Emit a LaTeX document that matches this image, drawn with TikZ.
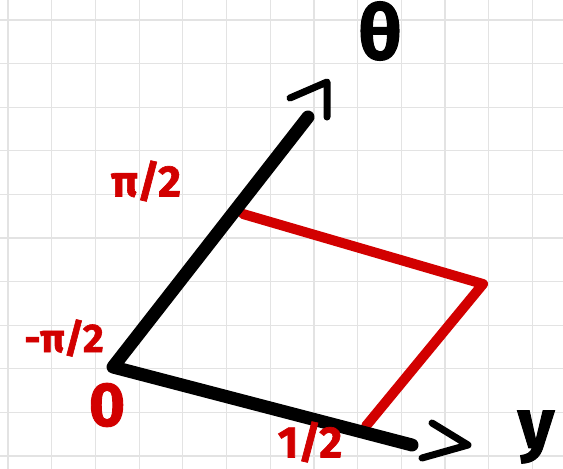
\documentclass[tikz,border=0pt]{standalone}
\usepackage{fontspec}
\setmainfont{Fira Sans}
\newfontfamily\handfont[UprightFeatures={FakeBold=1.5}]{Fira Sans Bold}
\begin{document}
\begin{tikzpicture}[x=1pt,y=-1pt,
  gridline/.style={draw=gray!22,line width=1.2pt},
  axisline/.style={draw=black,line width=13pt,line cap=round,line join=round},
  tipline/.style={draw=black,line width=7pt,line cap=round,line join=round},
  redline/.style={draw=redink,line width=10pt,line cap=round,line join=round},
  redlabel/.style={text=redink,inner sep=0pt},
  blacklabel/.style={text=black,inner sep=0pt}]
\definecolor{redink}{HTML}{D20000}
\useasboundingbox[fill=white] (0,0) rectangle (563,469);
% grid
\foreach \i in {0,...,12} \draw[gridline] ({8+43.7*\i},0) -- ({8+43.7*\i},469);
\foreach \j in {0,...,10} \draw[gridline] (0,{20+43.6*\j}) -- (563,{20+43.6*\j});
% points
\coordinate (O) at (113,367);
\coordinate (T) at (308,117);
\coordinate (Y) at (412,445);
\coordinate (TA) at (290,98);
\coordinate (TB) at (327,82);
\coordinate (TC) at (327,117);
\coordinate (YA) at (432,423);
\coordinate (YB) at (468,445);
\coordinate (YC) at (422,458);
\coordinate (P1) at (243,214);
\coordinate (P2) at (483,284);
\coordinate (P3) at (366,426);
% red parallelogram sides
\draw[redline] (P1) -- (P2) -- (P3);
% axes
\draw[axisline] (T) -- (O) -- (Y);
\draw[tipline] (TA) -- (TB) -- (TC);
\draw[tipline] (YA) -- (YB) -- (YC);
% labels
\node[blacklabel,font=\handfont\fontsize{76}{76}\selectfont] (th) at (380,31) {θ};
\node[blacklabel,font=\handfont\fontsize{70}{70}\selectfont] (ylab) at (536,437) {y};
\node[redlabel,font=\handfont\fontsize{44}{44}\selectfont] (pi2) at (146,181) {π/2};
\node[redlabel,font=\handfont\fontsize{40}{40}\selectfont] (mpi2) at (64,338) {-π/2};
\node[redlabel,font=\handfont\fontsize{62}{62}\selectfont] (zero) at (107,405) {0};
\node[redlabel,font=\handfont\fontsize{44}{44}\selectfont] (half) at (310,442) {1/2};
\end{tikzpicture}
\end{document}
